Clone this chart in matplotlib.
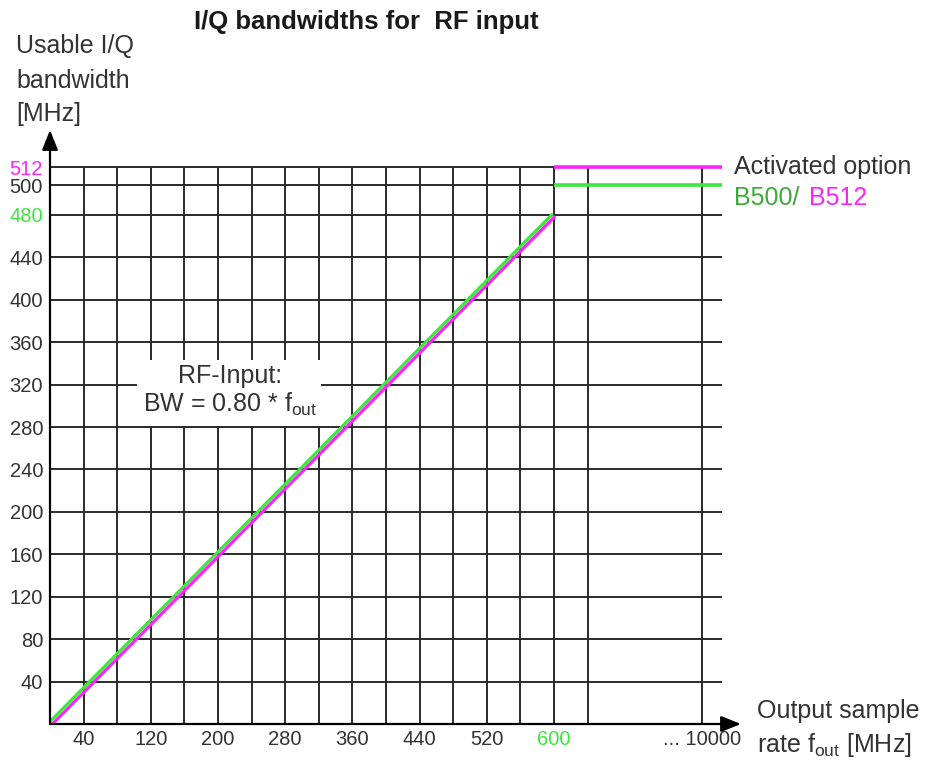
import numpy as np
import matplotlib
matplotlib.use("Agg")
import matplotlib.pyplot as plt
import matplotlib.transforms as mtransforms

plt.rcParams['font.family'] = ['Liberation Sans', 'DejaVu Sans']
plt.rcParams['mathtext.fontset'] = 'custom'
plt.rcParams['mathtext.rm'] = 'Liberation Sans'
plt.rcParams['mathtext.it'] = 'Liberation Sans'

# ---- data ----
fout_line = [0, 600]            # output sample rate [MHz]
bw_line = [0, 480]              # usable I/Q bandwidth (0.8 * fout)
opt_start = 600
b500_level = 500
b512_level = 512
x_grid = list(range(40, 641, 40)) + [10000]
y_grid = list(range(40, 481, 40)) + [500, 512]
x_tick_vals = [40, 120, 200, 280, 360, 440, 520, 600, 10000]
x_tick_labels = ['40', '120', '200', '280', '360', '440', '520', '600', '... 10000']
y_tick_vals = [40, 80, 120, 160, 200, 240, 280, 320, 360, 400, 440, 480, 500, 512]
y_tick_labels = [str(v) for v in y_tick_vals]

GREEN = '#3de83d'
GREEN_TXT = '#3aaa3a'
MAGENTA = '#ff22ff'
GRID = '#2a2a2a'
TXT = '#333333'

# ---- broken scales (axis compression beyond 640 / above 480) ----
KX = 0.014551
KY = 1.4

def fx(x):
    x = np.asarray(x, dtype=float)
    return np.where(x <= 640, x, 640 + (x - 640) * KX)

def ix(u):
    u = np.asarray(u, dtype=float)
    return np.where(u <= 640, u, 640 + (u - 640) / KX)

def fy(y):
    y = np.asarray(y, dtype=float)
    return np.where(y <= 480, y, 480 + (y - 480) * KY)

def iy(v):
    v = np.asarray(v, dtype=float)
    return np.where(v <= 480, v, 480 + (v - 480) / KY)

W, H = 933, 760
fig = plt.figure(figsize=(W / 100, H / 100), dpi=100)
ax = fig.add_axes([50 / W, 36 / H, (741 - 50) / W, (724 - 130) / H])
ax.set_xscale('function', functions=(fx, ix))
ax.set_yscale('function', functions=(fy, iy))
x_max = float(ix(822.6))
y_max = float(iy(560.1))
grid_end = float(ix(800.0))
ax.set_xlim(0, x_max)
ax.set_ylim(0, y_max)

for s in ax.spines.values():
    s.set_visible(False)

# grid
ax.vlines(x_grid, 0, 512, colors=GRID, lw=1.4, zorder=1)
ax.hlines(y_grid, 0, grid_end, colors=GRID, lw=1.4, zorder=1)

# label box
ax.add_patch(plt.Rectangle((104, 281), 219, 62, facecolor='white', edgecolor='none', zorder=2))
ax.text(214, 314, 'RF-Input:\nBW = 0.80 * f$_{\\mathrm{out}}$', ha='center', va='center',
        fontsize=18, color=TXT, linespacing=1.15, zorder=3)

# data lines
off_g = mtransforms.offset_copy(ax.transData, fig=fig, x=-1.2, y=1.2, units='dots')
off_m = mtransforms.offset_copy(ax.transData, fig=fig, x=1.2, y=-1.2, units='dots')
ax.plot(fout_line, bw_line, color=GREEN, lw=2.3, transform=off_g, zorder=4, solid_capstyle='butt')
ax.plot(fout_line, bw_line, color=MAGENTA, lw=2.3, transform=off_m, zorder=4, solid_capstyle='butt')
ax.hlines([b500_level], opt_start, grid_end, colors=GREEN, lw=2.6, zorder=4)
ax.hlines([b512_level], opt_start, grid_end, colors=MAGENTA, lw=2.6, zorder=4)

# axes arrows
arrow_kw = dict(arrowstyle='-|>,head_length=0.55,head_width=0.22', color='black', lw=1.6,
                mutation_scale=22, shrinkA=0, shrinkB=0)
ax.annotate('', xy=(0, 1), xytext=(0, 0), xycoords='axes fraction', arrowprops=arrow_kw, zorder=5)
ax.annotate('', xy=(1, 0), xytext=(0, 0), xycoords='axes fraction', arrowprops=arrow_kw, zorder=5)

# ticks
ax.set_xticks(x_tick_vals)
ax.set_xticklabels(x_tick_labels)
ax.set_yticks(y_tick_vals)
ax.set_yticklabels(y_tick_labels)
ax.xaxis.set_minor_locator(matplotlib.ticker.NullLocator())
ax.yaxis.set_minor_locator(matplotlib.ticker.NullLocator())
ax.tick_params(axis='both', length=0, labelsize=14.5, labelcolor=TXT)
ax.tick_params(axis='x', pad=4)
ax.tick_params(axis='y', pad=5)
for lab, v in zip(ax.get_xticklabels(), x_tick_vals):
    if v == 600:
        lab.set_color(GREEN)
for lab, v in zip(ax.get_yticklabels(), y_tick_vals):
    if v == 480:
        lab.set_color(GREEN)
    elif v == 512:
        lab.set_color(MAGENTA)

# texts
def px(x, y):
    return x / W, 1 - y / H

fig.text(*px(366, 22), 'I/Q bandwidths for  RF input', ha='center', va='center',
         fontsize=18.5, fontweight='bold', color='#1a1a1a')
for t, yy in zip(['Usable I/Q', 'bandwidth', '[MHz]'], [46, 81, 114]):
    fig.text(*px(16, yy), t, ha='left', va='center', fontsize=18, color=TXT)
fig.text(*px(734, 167), 'Activated option', ha='left', va='center', fontsize=18, color=TXT)
fig.text(*px(734, 198), 'B500/', ha='left', va='center', fontsize=18, color=GREEN_TXT)
fig.text(*px(809, 198), 'B512', ha='left', va='center', fontsize=18, color=MAGENTA)
fig.text(*px(757, 711), 'Output sample', ha='left', va='center', fontsize=18, color=TXT)
fig.text(*px(757, 745), 'rate f$_{\\mathrm{out}}$ [MHz]', ha='left', va='center', fontsize=18, color=TXT)

fig.savefig('out.png', dpi=100)
